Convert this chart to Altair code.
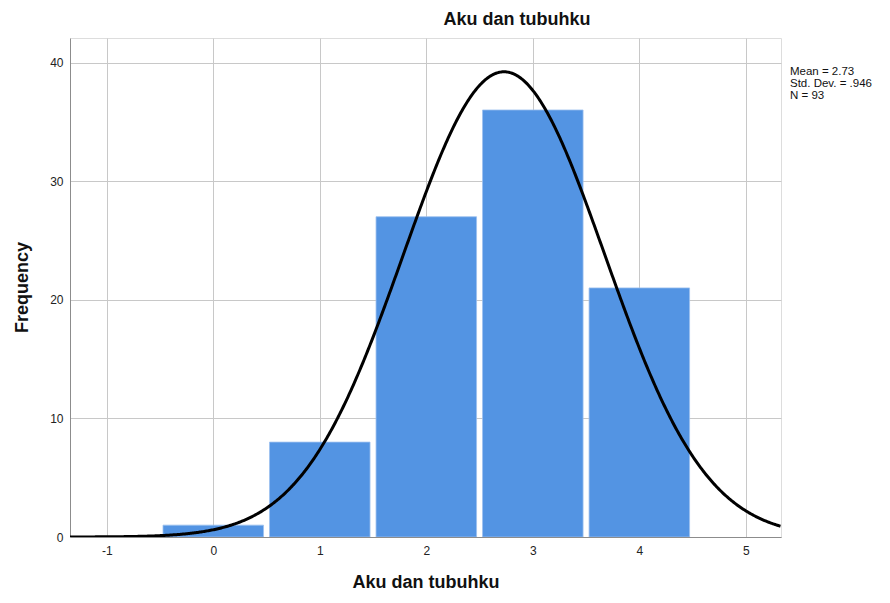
import altair as alt
import pandas as pd

# Data
values = [0, 1, 2, 3, 4]
counts = [1, 8, 27, 36, 21]
mean = 2.73
sd = 0.946
n = 93
x_ticks = [-1, 0, 1, 2, 3, 4, 5]
y_ticks = [0, 10, 20, 30, 40]
x_domain = [-1.345, 5.33]
y_domain = [0, 42.07]
stats_text = ["Mean = 2.73", "Std. Dev. = .946", "N = 93"]
title_text = "Aku dan tubuhku"

FONT = "Liberation Sans"
W, H = 711, 499

bars_df = pd.DataFrame({"value": values, "count": counts})

x_scale = alt.Scale(domain=x_domain, nice=False, zero=False)
y_scale = alt.Scale(domain=y_domain, nice=False, zero=False)

x_axis = alt.Axis(values=x_ticks, labelExpr="'' + datum.value", ticks=False, grid=True,
                  gridColor="#c8c8c8", domainColor="#8c8c8c", labelFont=FONT,
                  labelFontSize=12, labelColor="#222222", labelPadding=8, title=title_text,
                  titleFont=FONT, titleFontSize=18, titleFontWeight="bold",
                  titleColor="#111111", titleY=45, titleBaseline="middle")
y_axis = alt.Axis(values=y_ticks, labelExpr="'' + datum.value", ticks=False, grid=True,
                  gridColor="#c8c8c8", domainColor="#8c8c8c", labelFont=FONT,
                  labelFontSize=12, labelColor="#222222", labelPadding=7, title="Frequency",
                  titleFont=FONT, titleFontSize=18, titleFontWeight="bold",
                  titleColor="#111111", titleX=-48, titleY=249,
                  titleAlign="center", titleBaseline="middle", titleAngle=-90)

bars = alt.Chart(bars_df).transform_calculate(
    lo="datum.value - 0.5", hi="datum.value + 0.5"
).mark_bar(color="#5394e3", stroke="#9cc0ef", strokeWidth=0.8,
           xOffset=3, x2Offset=-3, clip=True).encode(
    x=alt.X("lo:Q", scale=x_scale, axis=x_axis),
    x2="hi:Q",
    y=alt.Y("count:Q", scale=y_scale, axis=y_axis),
    y2=alt.datum(0),
)

curve = alt.Chart(alt.sequence(start=-1.345, stop=5.335, step=0.01, as_="x")).transform_calculate(
    y=f"{n} * exp(-0.5 * pow((datum.x - {mean}) / {sd}, 2)) / ({sd} * sqrt(2 * PI))"
).mark_line(color="black", strokeWidth=3, clip=True).encode(
    x=alt.X("x:Q", scale=x_scale),
    y=alt.Y("y:Q", scale=y_scale),
)

stat_layers = []
for i, s in enumerate(stats_text):
    stat_layers.append(
        alt.Chart(pd.DataFrame({"t": [s]})).mark_text(
            align="left", baseline="top", font=FONT, fontSize=11.5, color="#111111"
        ).encode(text="t:N", x=alt.value(720), y=alt.value(28 + 12 * i))
    )

title = alt.Chart(pd.DataFrame({"t": [title_text]})).mark_text(
    align="center", baseline="middle", font=FONT, fontSize=18,
    fontWeight="bold", color="#111111"
).encode(text="t:N", x=alt.value(447), y=alt.value(-18))

chart = alt.layer(bars, curve, *stat_layers, title).properties(
    width=W, height=H,
    autosize=alt.AutoSizeParams(type="none"),
    padding={"left": 62, "top": 30, "right": 101, "bottom": 53},
).configure_view(stroke=None).configure(background="white")

chart.save("out.html", embed_options={"renderer": "svg", "actions": False})
